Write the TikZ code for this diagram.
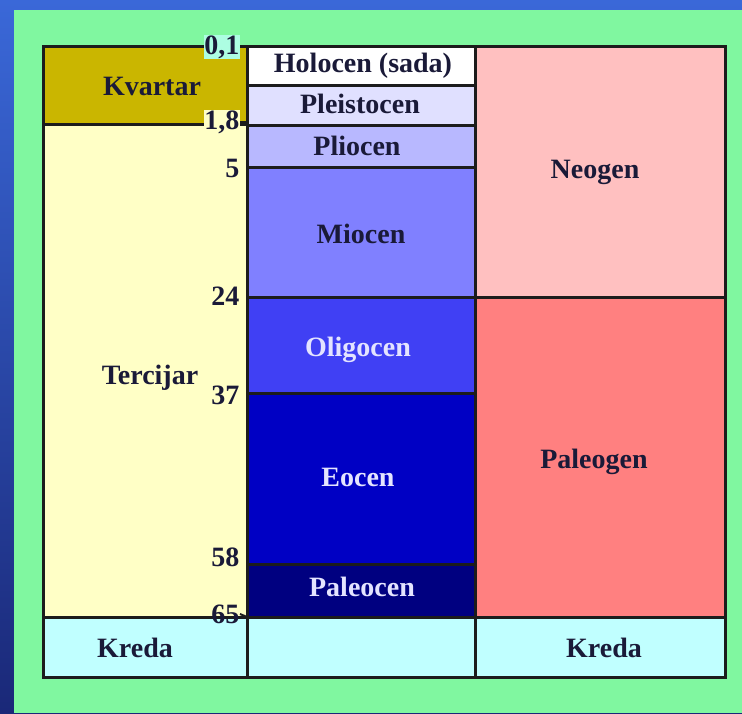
\documentclass[tikz,border=0pt]{standalone}
\usepackage{fontspec}
\setmainfont{Liberation Serif}
\definecolor{bgblue1}{HTML}{3A68D8}
\definecolor{bgblue2}{HTML}{1A2878}
\definecolor{bggreen}{HTML}{80F7A0}
\definecolor{ckvartar}{HTML}{CAB600}
\definecolor{ctercijar}{HTML}{FFFFC6}
\definecolor{ckreda}{HTML}{C0FFFF}
\definecolor{cholocen}{HTML}{FFFFFF}
\definecolor{cpleisto}{HTML}{E0E0FF}
\definecolor{cplio}{HTML}{B8B8FF}
\definecolor{cmio}{HTML}{8080FF}
\definecolor{coligo}{HTML}{4040F4}
\definecolor{ceo}{HTML}{0000C4}
\definecolor{cpaleo}{HTML}{000080}
\definecolor{cneogen}{HTML}{FFC0C0}
\definecolor{cpaleogen}{HTML}{FF8080}
\definecolor{cborder}{HTML}{1C1C1C}
\definecolor{ctext}{HTML}{1A1A38}
\definecolor{clighttext}{HTML}{E4E4FF}
\tikzset{
  cell/.style={draw=cborder, line width=3pt},
  lbl/.style={font=\fontsize{28}{31}\selectfont\bfseries, text=ctext, inner sep=0pt},
  wlbl/.style={lbl, text=clighttext},
  num/.style={font=\fontsize{28}{31}\selectfont\bfseries, text=ctext, inner sep=0.5pt, anchor=east},
}
\begin{document}
\begin{tikzpicture}[x=1pt,y=-1pt]
\useasboundingbox (0,0) rectangle (742,713);
\shade[top color=bgblue1, bottom color=bgblue2] (0,0) rectangle (742,713);
\fill[bggreen] (14,10) rectangle (742,713);
% left column
\filldraw[cell, fill=ckvartar] (43,46) rectangle (247,124);
\filldraw[cell, fill=ctercijar] (43,124) rectangle (247,617);
\filldraw[cell, fill=ckreda] (43,617) rectangle (247,677);
% middle column
\filldraw[cell, fill=cholocen] (247,46) rectangle (475,85);
\filldraw[cell, fill=cpleisto] (247,85) rectangle (475,125);
\filldraw[cell, fill=cplio] (247,125) rectangle (475,167);
\filldraw[cell, fill=cmio] (247,167) rectangle (475,297);
\filldraw[cell, fill=coligo] (247,297) rectangle (475,393);
\filldraw[cell, fill=ceo] (247,393) rectangle (475,564);
\filldraw[cell, fill=cpaleo] (247,564) rectangle (475,617);
\filldraw[cell, fill=ckreda] (247,617) rectangle (475,677);
% right column
\filldraw[cell, fill=cneogen] (475,46) rectangle (725,297);
\filldraw[cell, fill=cpaleogen] (475,297) rectangle (725,617);
\filldraw[cell, fill=ckreda] (475,617) rectangle (725,677);
% labels
\node[lbl] (kvartar) at (152,86) {Kvartar};
\node[lbl] (tercijar) at (150,378) {Tercijar};
\node[lbl] (kredaL) at (135,648) {Kreda};
\node[lbl] (holocen) at (363,66) {Holocen (sada)};
\node[lbl] (pleisto) at (360,104) {Pleistocen};
\node[lbl] (plio) at (357,146) {Pliocen};
\node[lbl] (mio) at (361,234) {Miocen};
\node[wlbl] (oligo) at (358,350) {Oligocen};
\node[wlbl] (eo) at (358,477) {Eocen};
\node[wlbl] (paleo) at (362,587) {Paleocen};
\node[lbl] (neogen) at (595,172) {Neogen};
\node[lbl] (paleogen) at (594,462) {Paleogen};
\node[lbl] (kredaR) at (604,648) {Kreda};
% age numbers
\node[num, fill=ckreda!70!bggreen] (n01) at (240,47) {0,1};
\node[num, fill=ctercijar] (n18) at (240,122) {1,8};
\node[num] (n5) at (240,168) {5};
\node[num] (n24) at (240,296) {24};
\node[num] (n37) at (240,395) {37};
\node[num] (n58) at (240,557) {58};
\node[num] (n65) at (240,614) {65};
\draw[cborder, line width=2pt] (n01.east) -- (247,47);
\draw[cborder, line width=2pt] (n18.east) -- (247,122);
\draw[cborder, line width=2pt] (n65.east) -- (247,617);
\end{tikzpicture}
\end{document}
